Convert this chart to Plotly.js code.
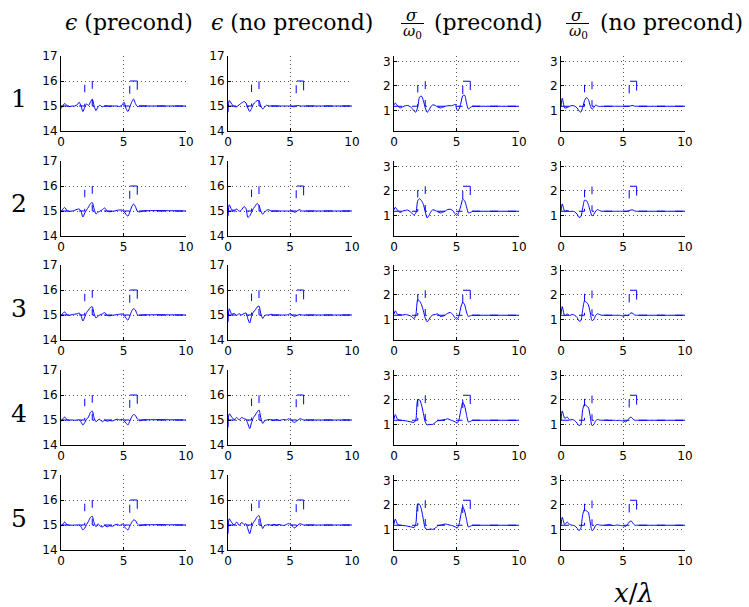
<!DOCTYPE html>
<html><head><meta charset="utf-8">
<script src="https://cdn.plot.ly/plotly-3.0.1.min.js"></script>
<style>html,body{margin:0;padding:0;background:#fff}#chart{width:749px;height:607px}</style>
</head><body><div id="chart"></div>
<script>
// ---------------- data ----------------
const xGrid = [0, 0.1, 0.3, 0.5, 0.7, 0.9, 1.1, 1.3, 1.45, 1.6, 1.75, 1.9, 2.05, 2.2, 2.35, 2.5, 2.65, 2.8, 2.95, 3.1, 3.3, 3.5, 3.7, 3.9, 4.1, 4.3, 4.5, 4.7, 4.9, 5.05, 5.2, 5.35, 5.5, 5.65, 5.8, 5.95, 6.1, 6.3, 6.5, 10];

const trueX   = [0, 1.9, 1.9, 2.5, 2.5, 5.5, 5.5, 6.1, 6.1, 10];
const trueEps = [15, 15, 16, 16, 15, 15, 16, 16, 15, 15];
const trueSig = [1.17, 1.17, 2.19, 2.19, 1.17, 1.17, 2.19, 2.19, 1.17, 1.17];

const eps1Pre = [14.9, 14.97, 15.1, 15.0, 14.98, 15.0, 15.0, 15.05, 15.15, 15.0, 14.78, 14.95, 15.08, 15.02, 15.15, 15.28, 15.0, 14.82, 14.95, 15.03, 14.97, 15.0, 15.0, 14.98, 15.0, 15.0, 15.0, 14.98, 15.05, 15.15, 14.9, 14.78, 14.95, 15.15, 15.28, 15.1, 14.98, 15.0, 15.0, 15.0];
const eps1No  = [14.75, 15.22, 15.08, 14.98, 14.97, 15.05, 15.12, 15.18, 15.12, 14.92, 14.78, 14.9, 15.08, 15.15, 15.22, 15.2, 15.0, 14.88, 14.96, 15.03, 15.0, 15.0, 15.0, 15.0, 15.0, 15.0, 15.0, 15.0, 15.0, 15.0, 14.98, 14.97, 15.0, 15.02, 15.0, 15.0, 15.0, 15.0, 15.0, 15.0];
const eps2Pre = [14.95, 15.05, 15.14, 15.0, 14.99, 15.0, 15.03, 15.07, 15.08, 14.99, 14.76, 14.92, 15.05, 15.16, 15.29, 15.34, 15.08, 14.88, 14.95, 14.99, 15.05, 15.12, 14.99, 14.97, 14.99, 15.0, 15.03, 15.04, 15.03, 14.97, 14.87, 14.79, 14.95, 15.16, 15.28, 15.18, 15.0, 14.96, 15.0, 15.0];
const eps2No  = [14.79, 15.25, 15.05, 15.03, 15.08, 14.99, 15.05, 15.18, 15.1, 14.75, 14.8, 14.95, 15.1, 15.2, 15.3, 15.22, 15.0, 14.87, 14.96, 15.03, 15.05, 14.99, 15.0, 15.0, 15.0, 15.0, 15.0, 15.0, 15.0, 15.0, 15.0, 14.95, 14.97, 15.03, 15.05, 15.0, 15.0, 15.0, 15.0, 15.0];
const eps3Pre = [14.95, 15.05, 15.12, 15.0, 14.99, 15.02, 15.03, 15.05, 15.08, 14.98, 14.76, 14.92, 15.1, 15.2, 15.3, 15.33, 15.05, 14.88, 14.95, 15.0, 15.04, 15.1, 14.98, 14.97, 14.99, 15.0, 15.02, 15.03, 15.04, 14.98, 14.88, 14.79, 14.95, 15.15, 15.25, 15.2, 15.02, 14.98, 15.0, 15.0];
const eps3No  = [14.72, 15.25, 15.03, 15.06, 14.99, 15.05, 15.0, 15.06, 15.08, 14.85, 14.68, 14.95, 15.12, 15.2, 15.32, 15.36, 15.05, 14.86, 14.97, 15.0, 15.0, 15.03, 14.99, 15.0, 15.0, 15.0, 15.0, 15.0, 15.03, 15.05, 14.98, 14.95, 14.97, 15.0, 15.02, 15.0, 15.0, 15.0, 15.0, 15.0];
const eps4Pre = [14.95, 15.02, 15.12, 15.0, 15.0, 15.0, 14.99, 15.0, 15.01, 14.92, 14.8, 14.9, 15.03, 15.12, 15.3, 15.36, 15.08, 14.93, 15.0, 15.03, 14.93, 15.0, 14.95, 14.98, 14.96, 15.0, 15.03, 15.0, 15.02, 14.96, 14.88, 14.8, 14.95, 15.12, 15.22, 15.18, 15.05, 14.97, 15.0, 15.0];
const eps4No  = [14.7, 15.25, 15.12, 15.02, 15.1, 15.0, 15.1, 15.05, 15.03, 14.85, 14.66, 14.9, 15.1, 15.2, 15.32, 15.4, 15.08, 14.86, 14.97, 15.0, 15.02, 15.0, 14.98, 15.02, 14.98, 15.0, 15.02, 15.0, 15.05, 15.0, 14.95, 14.9, 14.95, 15.0, 15.05, 15.03, 15.0, 15.0, 15.0, 15.0];
const eps5Pre = [14.95, 15.0, 15.12, 15.0, 15.0, 14.99, 15.0, 15.0, 15.0, 14.93, 14.8, 14.88, 15.02, 15.15, 15.3, 15.35, 15.08, 14.93, 15.05, 14.97, 14.92, 14.98, 14.93, 14.97, 14.95, 15.0, 15.03, 14.98, 15.04, 14.95, 14.86, 14.8, 14.95, 15.1, 15.2, 15.18, 15.05, 14.97, 15.0, 15.0];
const eps5No  = [14.65, 15.25, 15.1, 15.0, 15.12, 14.98, 15.1, 15.02, 15.05, 14.85, 14.65, 14.92, 15.1, 15.2, 15.33, 15.38, 15.08, 14.86, 14.98, 15.0, 15.02, 14.98, 15.03, 14.98, 15.02, 15.0, 14.98, 15.02, 15.06, 15.0, 14.95, 14.88, 14.93, 15.0, 15.05, 15.03, 15.0, 15.0, 15.0, 15.0];

const sig1Pre = [1.23, 1.3, 1.18, 1.1, 1.15, 1.19, 1.2, 1.15, 1.08, 0.98, 0.93, 1.15, 1.55, 1.58, 1.4, 1.1, 0.92, 1.02, 1.15, 1.23, 1.2, 1.14, 1.1, 1.13, 1.17, 1.19, 1.19, 1.2, 1.25, 1.0, 1.05, 1.3, 1.6, 1.62, 1.3, 1.05, 1.12, 1.17, 1.17, 1.17];
const sig1No  = [1.15, 1.5, 1.1, 1.12, 1.17, 1.2, 1.18, 1.1, 0.98, 0.93, 1.12, 1.4, 1.52, 1.45, 1.2, 1.05, 1.12, 1.22, 1.18, 1.16, 1.17, 1.17, 1.17, 1.17, 1.17, 1.17, 1.17, 1.17, 1.17, 1.17, 1.17, 1.17, 1.17, 1.19, 1.2, 1.17, 1.17, 1.17, 1.17, 1.17];
const sig2Pre = [1.23, 1.33, 1.2, 1.12, 1.18, 1.2, 1.22, 1.15, 1.08, 1.02, 1.1, 1.6, 1.68, 1.6, 1.45, 1.15, 0.9, 1.0, 1.15, 1.23, 1.2, 1.15, 1.1, 1.13, 1.18, 1.24, 1.25, 1.2, 1.05, 1.0, 1.15, 1.4, 1.65, 1.6, 1.35, 1.1, 1.12, 1.17, 1.17, 1.17];
const sig2No  = [1.18, 1.47, 1.17, 1.2, 1.16, 1.17, 1.15, 1.05, 0.92, 0.95, 1.3, 1.62, 1.6, 1.45, 1.2, 0.98, 1.05, 1.18, 1.24, 1.2, 1.17, 1.17, 1.17, 1.17, 1.17, 1.17, 1.17, 1.17, 1.17, 1.17, 1.17, 1.17, 1.2, 1.22, 1.22, 1.18, 1.17, 1.17, 1.17, 1.17];
const sig3Pre = [1.22, 1.35, 1.2, 1.2, 1.18, 1.2, 1.18, 1.15, 1.1, 1.03, 1.2, 1.8, 1.75, 1.6, 1.35, 1.05, 0.9, 1.0, 1.12, 1.18, 1.2, 1.23, 1.12, 1.13, 1.18, 1.25, 1.28, 1.2, 1.05, 1.0, 1.15, 1.5, 1.7, 1.6, 1.3, 1.12, 1.15, 1.17, 1.17, 1.17];
const sig3No  = [1.2, 1.52, 1.15, 1.22, 1.16, 1.2, 1.17, 1.08, 0.93, 0.95, 1.4, 1.75, 1.7, 1.6, 1.3, 0.95, 1.0, 1.17, 1.23, 1.2, 1.17, 1.17, 1.17, 1.17, 1.17, 1.17, 1.17, 1.17, 1.15, 1.13, 1.17, 1.15, 1.2, 1.27, 1.24, 1.18, 1.17, 1.17, 1.17, 1.17];
const sig4Pre = [1.22, 1.4, 1.2, 1.17, 1.16, 1.15, 1.13, 1.11, 1.09, 1.08, 1.2, 2.0, 2.0, 1.8, 1.45, 1.1, 0.98, 1.0, 1.0, 1.0, 1.08, 1.15, 1.16, 1.18, 1.2, 1.23, 1.18, 1.15, 1.1, 1.05, 1.2, 1.6, 1.9, 1.75, 1.4, 1.1, 1.12, 1.17, 1.17, 1.17];
const sig4No  = [1.15, 1.55, 1.25, 1.3, 1.18, 1.2, 1.16, 1.05, 0.95, 1.0, 1.6, 1.83, 1.75, 1.7, 1.35, 0.95, 1.0, 1.15, 1.2, 1.18, 1.17, 1.17, 1.18, 1.16, 1.17, 1.17, 1.16, 1.17, 1.15, 1.14, 1.1, 1.15, 1.25, 1.3, 1.22, 1.17, 1.17, 1.17, 1.17, 1.17];
const sig5Pre = [1.22, 1.42, 1.2, 1.17, 1.16, 1.15, 1.13, 1.11, 1.09, 1.07, 1.25, 2.05, 2.02, 1.8, 1.4, 1.05, 1.0, 1.0, 1.02, 1.0, 1.05, 1.15, 1.17, 1.2, 1.22, 1.2, 1.17, 1.15, 1.1, 1.05, 1.2, 1.6, 1.92, 1.75, 1.4, 1.1, 1.13, 1.17, 1.17, 1.17];
const sig5No  = [1.15, 1.5, 1.2, 1.3, 1.2, 1.17, 1.15, 1.05, 0.95, 1.05, 1.6, 1.82, 1.75, 1.7, 1.3, 0.95, 1.02, 1.17, 1.2, 1.18, 1.17, 1.17, 1.18, 1.2, 1.17, 1.16, 1.18, 1.17, 1.15, 1.15, 1.12, 1.2, 1.3, 1.35, 1.25, 1.17, 1.17, 1.17, 1.17, 1.17];

const rowLabels = ['1', '2', '3', '4', '5'];
const xTicks = [0, 5, 10];
const epsTicks = [14, 15, 16, 17];
const sigTicks = [1, 2, 3];
const epsRange = [14, 17];
const sigRange = [0.16, 3.22];

// rows x columns of reconstructed curves
const recon = [
  [eps1Pre, eps1No, sig1Pre, sig1No],
  [eps2Pre, eps2No, sig2Pre, sig2No],
  [eps3Pre, eps3No, sig3Pre, sig3No],
  [eps4Pre, eps4No, sig4Pre, sig4No],
  [eps5Pre, eps5No, sig5Pre, sig5No]
];

// ---------------- layout ----------------
const W = 749, H = 607;
const colL = [61, 228, 394, 561], colR = [186, 352, 519, 685];
const rowT = [56, 161, 265, 370, 475], plotH = 75;
const px = v => v / W, py = v => 1 - v / H;
const BLUE = '#0000ff';
const tickFont = {family: 'DejaVu Sans, sans-serif', size: 12, color: '#000'};
const serif = 'DejaVu Serif, serif';
// dash sequence shaped like the MATLAB '--' rendering of the step profile
const trueDash = '8px,10px,8px,11.5px,7.5px,11.25px,7.75px,11px,8px,10px,8px,11px,6.5px,12.5px,8px,5px,16px,18px,8px,10px,8px,10px,8px,10px,8px,10px';

const data = [];
const layout = {
  width: W, height: H, margin: {l: 0, r: 0, t: 0, b: 0},
  paper_bgcolor: '#fff', plot_bgcolor: '#fff', showlegend: false,
  annotations: [], shapes: []
};

for (let r = 0; r < 5; r++) {
  for (let c = 0; c < 4; c++) {
    const n = r * 4 + c + 1;
    const xa = n === 1 ? 'x' : 'x' + n, ya = n === 1 ? 'y' : 'y' + n;
    const isEps = c < 2;
    data.push({x: trueX, y: isEps ? trueEps : trueSig, xaxis: xa, yaxis: ya, mode: 'lines',
      line: {color: BLUE, width: 1, dash: trueDash}, hoverinfo: 'skip'});
    data.push({x: xGrid, y: recon[r][c], xaxis: xa, yaxis: ya, mode: 'lines',
      line: {color: BLUE, width: 1, shape: 'spline', smoothing: 0.7}, hoverinfo: 'skip'});
    const common = {showline: true, linecolor: '#000', linewidth: 1, ticks: 'inside', ticklen: 3,
      tickcolor: '#000', showgrid: true, gridcolor: '#555', gridwidth: 1, griddash: '1px,3px',
      zeroline: false, tickfont: tickFont, fixedrange: true};
    layout['xaxis' + (n === 1 ? '' : n)] = Object.assign({}, common, {
      domain: [px(colL[c]), px(colR[c])], anchor: ya, range: [0, 10], tickvals: xTicks,
      ticktext: xTicks.map(String)});
    layout['yaxis' + (n === 1 ? '' : n)] = Object.assign({}, common, {
      domain: [py(rowT[r] + plotH), py(rowT[r])], anchor: xa,
      range: isEps ? epsRange : sigRange, tickvals: isEps ? epsTicks : sigTicks,
      ticktext: (isEps ? epsTicks : sigTicks).map(String)});
  }
  layout.annotations.push({xref: 'paper', yref: 'paper', x: px(19), y: py(99 + r * 104.75),
    xanchor: 'center', yanchor: 'middle', showarrow: false, text: rowLabels[r],
    font: {family: serif, size: 25, color: '#000'}});
}

const ann = (x, y, text, size, h) => {
  const a = {xref: 'paper', yref: 'paper', x: px(x), y: py(y), xanchor: 'center', yanchor: 'middle',
    showarrow: false, text: text, font: {family: serif, size: size, color: '#000'}};
  if (h) a.height = h;
  layout.annotations.push(a);
};

ann(129, 22, '<i>ϵ</i> (precond)', 22);
ann(292, 22, '<i>ϵ</i> (no precond)', 22);
ann(412, 15, '<i>σ</i>', 16, 14);
ann(413, 32, '<i>ω</i><sub>0</sub>', 15, 15);
ann(489, 22, '(precond)', 22);
ann(577, 15, '<i>σ</i>', 16, 14);
ann(578, 32, '<i>ω</i><sub>0</sub>', 15, 15);
ann(671, 22, '(no precond)', 22);
ann(634, 593, '<i>x</i>/<i>λ</i>', 26);

layout.shapes.push({type: 'line', xref: 'paper', yref: 'paper', x0: px(401), x1: px(424),
  y0: py(23.5), y1: py(23.5), line: {color: '#000', width: 1}});
layout.shapes.push({type: 'line', xref: 'paper', yref: 'paper', x0: px(566), x1: px(589),
  y0: py(23.5), y1: py(23.5), line: {color: '#000', width: 1}});

Plotly.newPlot('chart', data, layout, {staticPlot: true, displayModeBar: false});
</script></body></html>
